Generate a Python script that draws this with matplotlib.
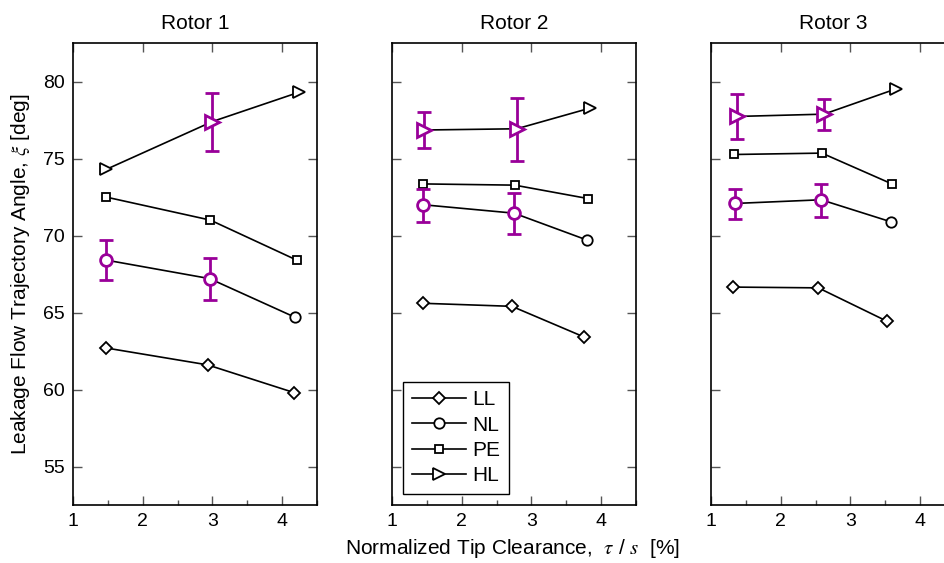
import numpy as np
import matplotlib.pyplot as plt
from matplotlib.ticker import MultipleLocator

plt.rcParams['font.family'] = ['Liberation Sans', 'DejaVu Sans']
plt.rcParams['mathtext.fontset'] = 'stix'

# valores, um painel por rotor
rotors = ['Rotor 1', 'Rotor 2', 'Rotor 3']
series = ['LL', 'NL', 'PE', 'HL']

x_r1 = {'LL': [1.47, 2.93, 4.17], 'NL': [1.48, 2.96, 4.18],
        'PE': [1.47, 2.97, 4.21], 'HL': [1.48, 3.00, 4.24]}
y_r1 = {'LL': [62.7, 61.6, 59.8], 'NL': [68.4, 67.2, 64.7],
        'PE': [72.5, 71.0, 68.4], 'HL': [74.3, 77.4, 79.3]}

x_r2 = {'LL': [1.44, 2.72, 3.76], 'NL': [1.44, 2.75, 3.80],
        'PE': [1.44, 2.76, 3.81], 'HL': [1.46, 2.79, 3.84]}
y_r2 = {'LL': [65.6, 65.4, 63.4], 'NL': [72.0, 71.45, 69.7],
        'PE': [73.35, 73.27, 72.4], 'HL': [76.85, 76.93, 78.27]}

x_r3 = {'LL': [1.32, 2.54, 3.53], 'NL': [1.34, 2.58, 3.58],
        'PE': [1.33, 2.59, 3.59], 'HL': [1.37, 2.62, 3.66]}
y_r3 = {'LL': [66.65, 66.6, 64.42], 'NL': [72.08, 72.32, 70.89],
        'PE': [75.26, 75.35, 73.36], 'HL': [77.73, 77.88, 79.53]}

# barras de erro (indice do ponto, limite inferior, limite superior)
err_r1 = {'NL': [(0, 67.08, 69.68), (1, 65.82, 68.53)],
          'HL': [(1, 75.5, 79.27)]}
err_r2 = {'NL': [(0, 70.89, 73.01), (1, 70.11, 72.77)],
          'HL': [(0, 75.65, 78.05), (1, 74.87, 78.96)]}
err_r3 = {'NL': [(0, 71.06, 73.05), (1, 71.23, 73.36)],
          'HL': [(0, 76.28, 79.18), (1, 76.88, 78.86)]}

xs = [x_r1, x_r2, x_r3]
ys = [y_r1, y_r2, y_r3]
errs = [err_r1, err_r2, err_r3]

markers = {'LL': ('D', 6.5), 'NL': ('o', 7.5), 'PE': ('s', 6), 'HL': ('>', 9)}
purple = '#990099'

fig = plt.figure(figsize=(9.45, 5.63), dpi=100)
lefts = [73, 392, 711]
axes = []
for k in range(3):
    ax = fig.add_axes([lefts[k] / 945, 58 / 563, 244 / 945, 462 / 563])
    axes.append(ax)
    for s in series:
        m, ms = markers[s]
        ax.plot(xs[k][s], ys[k][s], color='black', lw=1.2, marker=m, ms=ms,
                mfc='white', mec='black', mew=1.3, label=s, zorder=3)
    for s, lst in errs[k].items():
        m, ms = markers[s]
        for i, lo, hi in lst:
            xv = xs[k][s][i]
            yv = ys[k][s][i]
            ax.errorbar([xv], [yv], yerr=[[yv - lo], [hi - yv]], fmt=m, ms=ms + 1,
                        mfc='white', mec=purple, mew=2, ecolor=purple,
                        elinewidth=2, capsize=5, capthick=2, zorder=4)
    ax.set_xlim(1, 4.5)
    ax.set_ylim(52.5, 82.5)
    ax.xaxis.set_major_locator(MultipleLocator(1))
    ax.xaxis.set_minor_locator(MultipleLocator(0.5))
    ax.yaxis.set_major_locator(MultipleLocator(5))
    ax.tick_params(direction='in', length=6.5, width=1, color='#555555',
                   labelsize=14, pad=6, top=True, right=True)
    ax.tick_params(which='minor', direction='in', length=3.5, width=1,
                   color='#555555', top=False, bottom=True)
    for sp in ax.spines.values():
        sp.set_linewidth(1.2)
    ax.set_title(rotors[k], fontsize=15, pad=10)
    if k > 0:
        ax.set_yticklabels([])

axes[0].set_ylabel(r'Leakage Flow Trajectory Angle, $\xi$ [deg]', fontsize=15,
                   labelpad=8)
axes[1].legend(loc='lower left', fontsize=15, frameon=True, fancybox=False,
               edgecolor='black', framealpha=1, handlelength=2.6,
               handletextpad=0.3, borderaxespad=0.55, labelspacing=0.3,
               borderpad=0.4)
axes[1].get_legend().get_frame().set_linewidth(1.0)
fig.text(513 / 945, 1 - 549 / 563, r'Normalized Tip Clearance,  $\tau$ / $s$  [%]',
         ha='center', va='center', fontsize=15)

fig.savefig('out.png', dpi=100)
